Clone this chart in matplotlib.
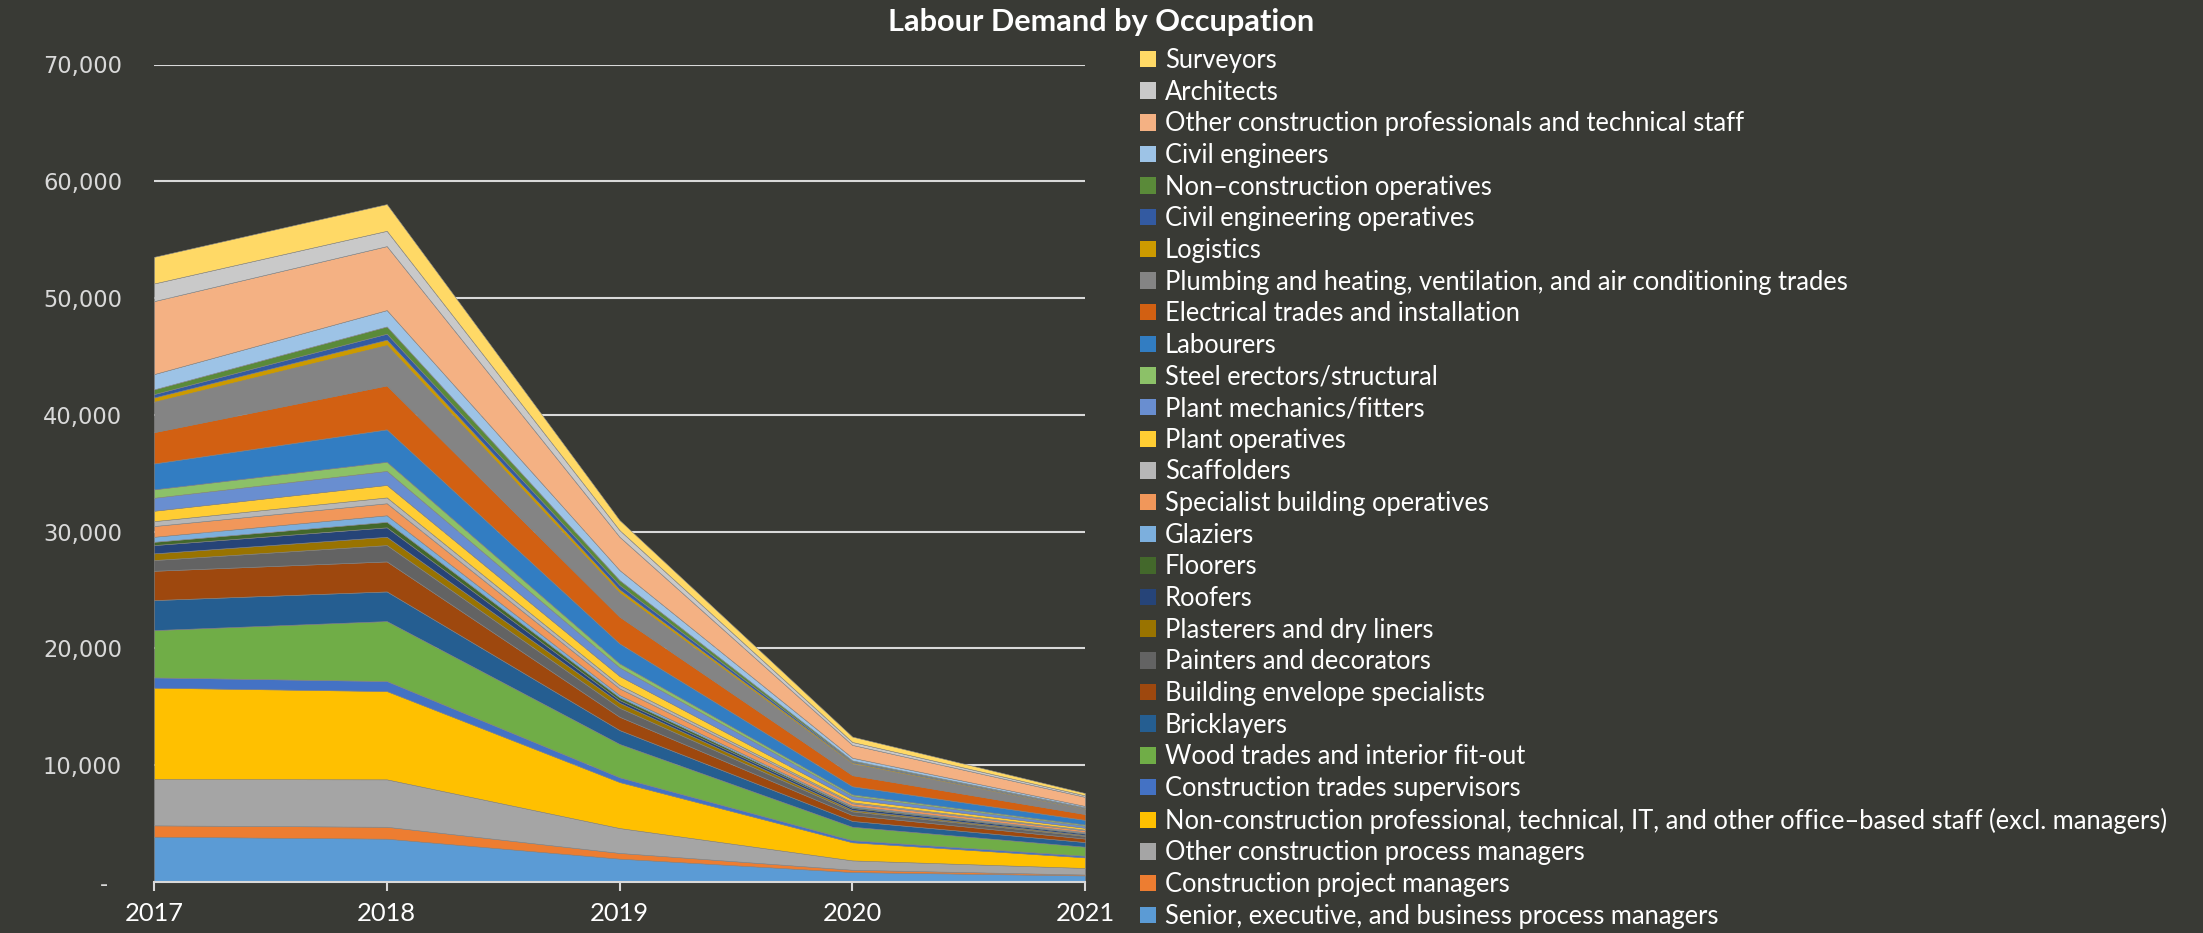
import matplotlib
matplotlib.use("Agg")
import matplotlib.pyplot as plt
from matplotlib.patches import Patch
from matplotlib.ticker import FuncFormatter
import numpy as np

years = [2017, 2018, 2019, 2020, 2021]

# stacking order: bottom first
categories = [
    "Senior, executive, and business process managers",
    "Construction project managers",
    "Other construction process managers",
    "Non-construction professional, technical, IT, and other office\u2013based staff (excl. managers)",
    "Construction trades supervisors",
    "Wood trades and interior fit-out",
    "Bricklayers",
    "Building envelope specialists",
    "Painters and decorators",
    "Plasterers and dry liners",
    "Roofers",
    "Floorers",
    "Glaziers",
    "Specialist building operatives",
    "Scaffolders",
    "Plant operatives",
    "Plant mechanics/fitters",
    "Steel erectors/structural",
    "Labourers",
    "Electrical trades and installation",
    "Plumbing and heating, ventilation, and air conditioning trades",
    "Logistics",
    "Civil engineering operatives",
    "Non\u2013construction operatives",
    "Civil engineers",
    "Other construction professionals and technical staff",
    "Architects",
    "Surveyors",
]

senior        = [3880, 3710, 2000, 850, 560]
project_mgrs  = [970, 1020, 490, 200, 80]
other_process = [3970, 4060, 2130, 800, 560]
non_con_prof  = [7820, 7560, 3940, 1550, 910]
supervisors   = [880, 860, 410, 180, 140]
wood_trades   = [4050, 5130, 2850, 1150, 770]
bricklayers   = [2570, 2540, 1190, 500, 400]
envelope      = [2510, 2570, 1140, 500, 300]
painters      = [920, 1400, 770, 320, 230]
plasterers    = [570, 710, 430, 120, 80]
roofers       = [710, 810, 230, 170, 120]
floorers      = [280, 470, 230, 90, 60]
glaziers      = [430, 560, 200, 90, 60]
specialist    = [920, 1030, 570, 220, 150]
scaffolders   = [420, 500, 290, 90, 60]
plant_ops     = [890, 1070, 770, 250, 160]
plant_mech    = [1110, 1200, 740, 280, 180]
steel         = [720, 780, 340, 140, 100]
labourers     = [2220, 2780, 1710, 700, 400]
electrical    = [2680, 3760, 2290, 950, 500]
plumbing      = [2600, 3460, 2050, 1000, 420]
logistics     = [370, 460, 290, 100, 60]
civil_ops     = [290, 510, 370, 80, 50]
non_con_ops   = [400, 620, 420, 80, 50]
civil_eng     = [1310, 1400, 860, 230, 110]
other_prof    = [6250, 5480, 2850, 1100, 780]
architects    = [1510, 1310, 570, 250, 130]
surveyors     = [2280, 2290, 860, 460, 200]

series = [senior, project_mgrs, other_process, non_con_prof, supervisors, wood_trades,
          bricklayers, envelope, painters, plasterers, roofers, floorers, glaziers,
          specialist, scaffolders, plant_ops, plant_mech, steel, labourers, electrical,
          plumbing, logistics, civil_ops, non_con_ops, civil_eng, other_prof,
          architects, surveyors]

colors = ["#5B9BD5", "#ED7D31", "#A5A5A5", "#FFC000", "#4472C4", "#70AD47",
          "#255E91", "#9E480E", "#636363", "#997300", "#264478", "#43682B",
          "#7CAFDD", "#F1975A", "#B7B7B7", "#FFCD33", "#698ED0", "#8CC168",
          "#327DC2", "#D26012", "#848484", "#CC9A00", "#335AA1", "#5A8A39",
          "#9DC3E6", "#F4B183", "#C9C9C9", "#FFD966"]

BG = "#393A35"
GRID = "#D9D9D9"
W, H = 2203, 933
fig = plt.figure(figsize=(W / 100, H / 100), dpi=100, facecolor=BG)
ax = fig.add_axes([154 / W, (H - 882) / H, (1085 - 154) / W, (882 - 64.5) / H])
ax.set_facecolor(BG)

ax.yaxis.grid(True, color=GRID, linewidth=1.5)
ax.set_axisbelow(True)
ax.stackplot(years, *series, colors=colors, edgecolor="#8A8A8A", linewidth=0.4, zorder=2)

ax.set_xlim(2017, 2021)
ax.set_ylim(0, 70000)
ax.set_xticks(years)
ax.set_yticks(range(0, 70001, 10000))
ax.yaxis.set_major_formatter(FuncFormatter(lambda v, p: "-  " if v == 0 else f"{int(v):,}"))

for s in ["top", "right", "left"]:
    ax.spines[s].set_visible(False)
ax.spines["bottom"].set_color(GRID)
ax.spines["bottom"].set_linewidth(1.5)
ax.spines["bottom"].set_zorder(3)

fig.canvas.draw()
renderer = fig.canvas.get_renderer()

def fit(text, target, family, weight="normal", base=20.0):
    t = fig.text(0, 0, text, fontsize=base, family=family, weight=weight)
    w = t.get_window_extent(renderer).width
    t.remove()
    return base * target / w

ysize = fit("70,000", 79, "DejaVu Sans")
xsize = fit("2017", 59, "Lato")
ax.tick_params(axis="y", length=0, pad=23, labelsize=ysize, labelcolor=GRID)
ax.tick_params(axis="x", length=6.5, width=1.5, color=GRID, pad=8, labelsize=xsize, labelcolor="#FFFFFF")
for lab in ax.get_xticklabels():
    lab.set_family("Lato")
for lab in ax.get_yticklabels():
    lab.set_family("DejaVu Sans")

tsize = fit("Labour Demand by Occupation", 426, "Lato", "bold")
fig.text(0.5, 1 - 22 / H, "Labour Demand by Occupation", ha="center", va="center",
         fontsize=tsize, weight="bold", family="Lato", color="#FFFFFF")

lsize = fit(categories[3], 1005, "Lato")
handles = [Patch(facecolor=c, edgecolor="none") for c in colors][::-1]
labels = categories[::-1]

def make_legend(spacing):
    return fig.legend(handles, labels, loc="upper left",
                      bbox_to_anchor=(1140 / W, 1 - 43 / H), frameon=False,
                      prop={"family": "Lato", "size": lsize}, labelcolor="#FFFFFF",
                      handlelength=0.62, handleheight=0.62, handletextpad=0.35,
                      labelspacing=spacing, borderaxespad=0, borderpad=0)

leg = make_legend(0.2)
fig.canvas.draw()
texts = leg.get_texts()
y0 = texts[0].get_window_extent(renderer).y0
y1 = texts[-1].get_window_extent(renderer).y0
pitch = (y0 - y1) / (len(texts) - 1)
target_pitch = 31.7
new_spacing = 0.2 + (target_pitch - pitch) / (lsize * 100 / 72)
leg.remove()
leg = make_legend(new_spacing)
fig.canvas.draw()
# shift so first entry centre sits at y=60 px from top
t0 = leg.get_texts()[0].get_window_extent(renderer)
cy = (t0.y0 + t0.y1) / 2
dy = (H - 60.4) - cy
leg.remove()
leg = fig.legend(handles, labels, loc="upper left",
                 bbox_to_anchor=(1140 / W, 1 - 43 / H + dy / H), frameon=False,
                 prop={"family": "Lato", "size": lsize}, labelcolor="#FFFFFF",
                 handlelength=0.62, handleheight=0.62, handletextpad=0.35,
                 labelspacing=new_spacing, borderaxespad=0, borderpad=0)

fig.savefig("out.png", dpi=100, facecolor=BG)
